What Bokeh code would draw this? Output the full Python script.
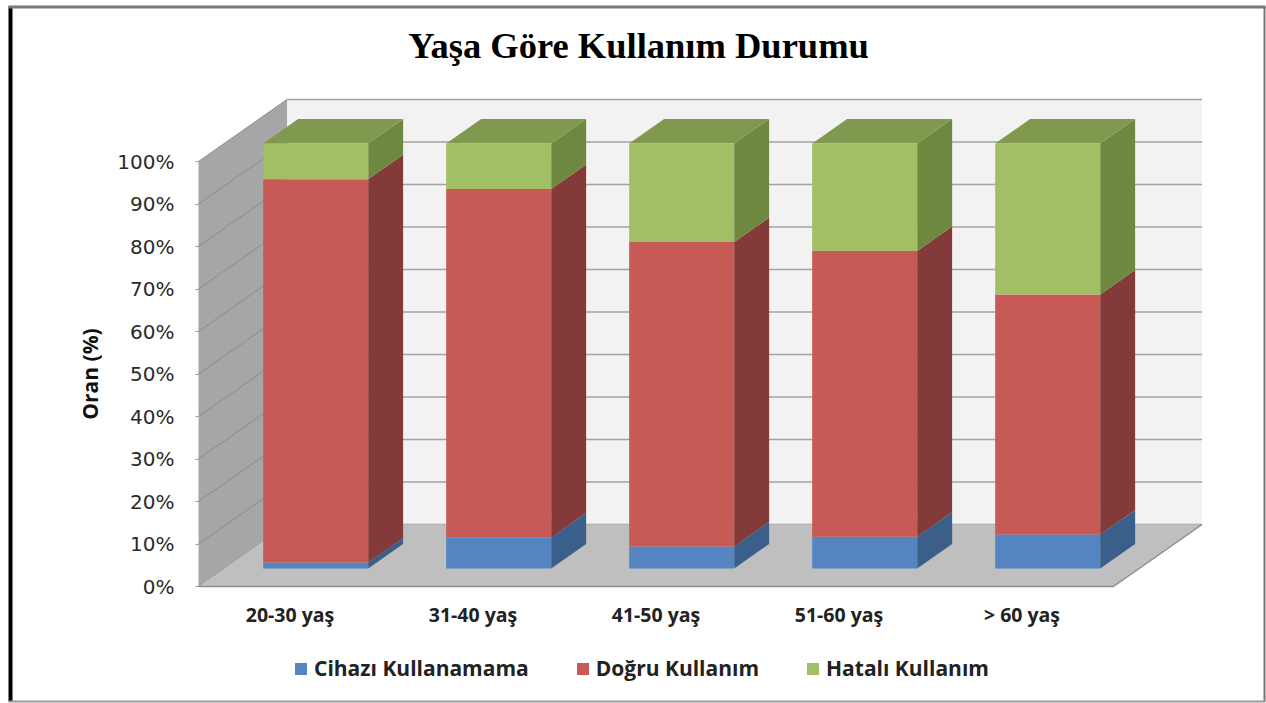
from bokeh.plotting import figure
from bokeh.embed import file_html
from bokeh.resources import INLINE
from bokeh.models import Legend, LegendItem, FixedTicker, BoxAnnotation, Label

categories = ["20-30 yaş", "31-40 yaş", "41-50 yaş", "51-60 yaş", "> 60 yaş"]
cihazi = [1.4, 7.3, 5.2, 7.5, 8.0]
dogru = [90.2, 82.0, 71.6, 67.2, 56.5]
hatali = [8.4, 10.7, 23.2, 25.3, 35.5]
series_names = ["Cihazı Kullanamama", "Doğru Kullanım", "Hatalı Kullanım"]
title_text = "Yaşa Göre Kullanım Durumu"
y_ticks = [0, 10, 20, 30, 40, 50, 60, 70, 80, 90, 100]

FRONT = ["#5585c0", "#c75a57", "#a2bf65"]
SIDE = ["#3b5f8b", "#843a38", "#6e883f"]
TOP = "#80994f"
PX_X, PX_Y = 183.0, 4.25
DX, DY = 88.5 / PX_X, 62 / PX_Y
D0, D1 = 0.29, 0.685
BAR_W = 105 / PX_X

def px(i, d):
    return i + d * DX

def py(v, d):
    return v + d * DY

# frame covers the whole canvas; x = -0.5 falls on pixel 198, y = 0 on pixel 586
W, H = 1266, 703
X0 = -0.5 - 198 / PX_X
Y0 = -(H - 586) / PX_Y
p = figure(width=W, height=H, output_backend="svg", toolbar_location=None,
           x_range=(X0, X0 + W / PX_X), y_range=(Y0, Y0 + H / PX_Y),
           min_border=0)
p.outline_line_color = None
p.grid.visible = False
p.xaxis.fixed_location = 0
p.xaxis.ticker = FixedTicker(ticks=list(range(len(categories))))
p.xaxis.major_label_overrides = {i: c for i, c in enumerate(categories)}
p.xaxis.axis_line_color = None
p.xaxis.major_tick_line_color = None
p.xaxis.minor_tick_line_color = None
p.xaxis.major_label_standoff = 8
p.xaxis.major_label_text_font = "Open Sans"
p.xaxis.major_label_text_font_style = "bold"
p.xaxis.major_label_text_font_size = "19.5px"
p.xaxis.major_label_text_color = "#222222"

p.yaxis.fixed_location = -0.5
p.yaxis.ticker = FixedTicker(ticks=y_ticks)
p.yaxis.major_label_overrides = {v: f"{v}%" for v in y_ticks}
p.yaxis.bounds = (0, 100)
p.yaxis.axis_line_color = None
p.yaxis.minor_tick_line_color = None
p.yaxis.major_tick_in = 0
p.yaxis.major_tick_out = 3
p.yaxis.major_tick_line_color = "#999999"
p.yaxis.major_label_standoff = 21
p.yaxis.major_label_text_font = "DejaVu Sans"
p.yaxis.major_label_text_font_size = "20px"
p.yaxis.major_label_text_color = "#2a2a2a"
p.yaxis.axis_label = "Oran (%)"
p.yaxis.axis_label_text_font = "Open Sans"
p.yaxis.axis_label_text_font_style = "bold"
p.yaxis.axis_label_text_font_size = "21px"
p.yaxis.axis_label_text_color = "#111111"
p.yaxis.axis_label_standoff = 10

n = len(categories)
xl, xr = -0.5, n - 0.5
# walls
p.patch([xl + DX, xr + DX, xr + DX, xl + DX], [py(0, 1), py(0, 1), py(100, 1), py(100, 1)], color="#f2f2f2", line_color=None)
p.patch([xl, xl + DX, xl + DX, xl], [0, py(0, 1), py(100, 1), 100], color="#a6a6a6", line_color=None)
# grid
p.multi_line([[xl + DX, xr + DX] for _ in y_ticks], [[py(v, 1), py(v, 1)] for v in y_ticks], line_color="#a3a3a3", line_width=1.6)
p.multi_line([[xl, xl + DX] for _ in y_ticks], [[v, py(v, 1)] for v in y_ticks], line_color="#8c8c8c", line_width=1)
# floor
p.patch([xl, xl + DX, xr + DX, xr], [0, py(0, 1), py(0, 1), 0], color="#bfbfbf", line_color=None)
p.line([xl, xr, xr + DX], [0, 0, py(0, 1)], line_color="#8c8c8c", line_width=1.5)

# bars
stacks = [cihazi, dogru, hatali]
base = [0.0] * n
renderers = []
for s, vals in enumerate(stacks):
    tops = [b + v for b, v in zip(base, vals)]
    side_x, side_y = [], []
    for i in range(n):
        xa = px(i, D0) + BAR_W / 2
        xb = px(i, D1) + BAR_W / 2
        side_x.append([xa, xb, xb, xa])
        side_y.append([py(base[i], D0), py(base[i], D1), py(tops[i], D1), py(tops[i], D0)])
    p.patches(side_x, side_y, fill_color=SIDE[s], line_color=None)
    if s == len(stacks) - 1:
        top_x, top_y = [], []
        for i in range(n):
            top_x.append([px(i, D0) - BAR_W / 2, px(i, D0) + BAR_W / 2, px(i, D1) + BAR_W / 2, px(i, D1) - BAR_W / 2])
            top_y.append([py(tops[i], D0), py(tops[i], D0), py(tops[i], D1), py(tops[i], D1)])
        p.patches(top_x, top_y, fill_color=TOP, line_color=None)
    r = p.vbar(x=[px(i, D0) for i in range(n)], width=BAR_W,
               bottom=[py(b, D0) for b in base], top=[py(t, D0) for t in tops],
               fill_color=FRONT[s], line_color=None)
    renderers.append(r)
    base = tops

legend = Legend(items=[LegendItem(label=nm, renderers=[r]) for nm, r in zip(series_names, renderers)],
                orientation="horizontal", location=(293, 21), background_fill_alpha=0, border_line_color=None,
                padding=0, margin=0, spacing=46, glyph_width=15, glyph_height=15, label_standoff=6,
                label_text_font="Open Sans", label_text_font_style="bold", label_text_font_size="21px",
                label_text_color="#222222")
p.add_layout(legend, "center")

p.add_layout(Label(x=(638 - 198) / PX_X - 0.5, y=(586 - 45) / PX_Y, text=title_text, text_align="center",
                   text_baseline="middle", text_font="Liberation Serif", text_font_style="bold",
                   text_font_size="36.5px", text_color="#000000"))

# picture border
def edge(left, right, top, bottom, color):
    p.add_layout(BoxAnnotation(left=left, right=right, top=top, bottom=bottom, left_units="canvas",
                               right_units="canvas", top_units="canvas", bottom_units="canvas",
                               fill_color=color, fill_alpha=1, line_color=None))

edge(8, 12, 6, 701, "#000000")
edge(8, 1265, 5, 8, "#777777")
edge(1263, 1265, 6, 701, "#777777")
edge(8, 1265, 700, 702, "#999999")

open("out.html", "w").write(file_html(p, INLINE))
